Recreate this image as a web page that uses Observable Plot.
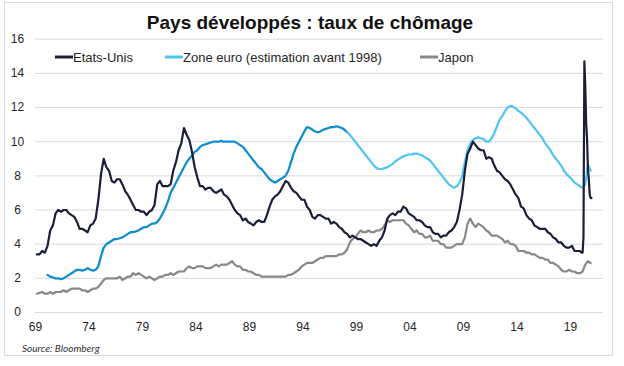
<!DOCTYPE html>
<html><head><meta charset="utf-8">
<script src="https://cdn.jsdelivr.net/npm/d3@7"></script>
<script src="https://cdn.jsdelivr.net/npm/@observablehq/plot@0.6"></script>
<style>
body{margin:0;background:#fff;}
#chart{position:relative;width:624px;height:366px;}
</style>
</head><body><div id="chart"></div>
<script>
// ---- DATA ----
const titleText = "Pays développés : taux de chômage";
const sourceText = "Source: Bloomberg";
const seriesNames = ["Etats-Unis", "Zone euro (estimation avant 1998)", "Japon"];

// United States, quarterly from 1969 Q1 (%)
const usStart = 1969;
const usQuarterly = [
  3.4, 3.4, 3.6, 3.5,
  3.9, 4.8, 5.1, 5.8,
  6.0, 5.9, 6.0, 6.0,
  5.8, 5.7, 5.6, 5.3,
  4.9, 4.9, 4.8, 4.7,
  5.1, 5.2, 5.5, 6.6,
  8.1, 9.0, 8.5, 8.3,
  7.7, 7.6, 7.8, 7.8,
  7.5, 7.1, 6.9, 6.6,
  6.3, 6.0, 6.0, 5.9,
  5.9, 5.7, 5.9, 6.0,
  6.3, 7.5, 7.7, 7.4,
  7.4, 7.4, 7.5, 8.3,
  8.8, 9.5, 9.9, 10.8,
  10.4, 10.1, 9.4, 8.5,
  7.9, 7.4, 7.4, 7.2,
  7.3, 7.3, 7.1, 7.0,
  7.1, 7.2, 6.9, 6.8,
  6.6, 6.3, 6.0, 5.8,
  5.7, 5.4, 5.5, 5.3,
  5.2, 5.1, 5.3, 5.4,
  5.3, 5.3, 5.7, 6.2,
  6.6, 6.8, 6.9, 7.1,
  7.4, 7.7, 7.6, 7.3,
  7.1, 7.0, 6.8, 6.6,
  6.6, 6.2, 6.0, 5.6,
  5.5, 5.7, 5.7, 5.6,
  5.5, 5.5, 5.2, 5.3,
  5.2, 5.0, 4.9, 4.7,
  4.6, 4.4, 4.5, 4.4,
  4.3, 4.3, 4.2, 4.1,
  4.0, 3.9, 4.0, 3.9,
  4.2, 4.4, 4.8, 5.5,
  5.7, 5.8, 5.7, 5.9,
  5.9, 6.2, 6.1, 5.8,
  5.7, 5.6, 5.4, 5.4,
  5.3, 5.1, 5.0, 5.0,
  4.7, 4.6, 4.6, 4.4,
  4.5, 4.5, 4.7, 4.8,
  5.0, 5.3, 6.0, 6.9,
  8.3, 9.3, 9.6, 10.0,
  9.8, 9.6, 9.5, 9.5,
  9.0, 9.1, 9.0, 8.6,
  8.3, 8.2, 8.0, 7.8,
  7.7, 7.5, 7.2, 6.9,
  6.7, 6.2, 6.1, 5.7,
  5.5, 5.4, 5.1, 5.0,
  4.9, 4.9, 4.9, 4.7,
  4.6, 4.4, 4.3, 4.1,
  4.1, 3.9, 3.8, 3.8,
  3.9, 3.6, 3.6, 3.6
];
// United States, monthly 2020 (%)
const us2020Monthly = [3.5, 3.5, 4.4, 14.7, 13.3, 11.1, 10.2, 8.4, 7.8, 6.9, 6.7, 6.7];

// Euro area, quarterly from 1970 Q1 (%), estimate before 1998
const euroStart = 1970;
const euroSplitYear = 1998;
const euroQuarterly = [
  2.2, 2.1, 2.05, 2.0,
  2.0, 1.95, 2.0, 2.1,
  2.2, 2.3, 2.4, 2.5,
  2.5, 2.45, 2.5, 2.6,
  2.5, 2.45, 2.5, 2.7,
  3.3, 3.8, 4.0, 4.1,
  4.2, 4.3, 4.3, 4.35,
  4.4, 4.5, 4.6, 4.7,
  4.7, 4.75, 4.8, 4.9,
  5.0, 5.0, 5.1, 5.2,
  5.2, 5.3, 5.5, 5.8,
  6.1, 6.5, 7.0, 7.3,
  7.6, 7.9, 8.2, 8.5,
  8.8, 9.0, 9.2, 9.4,
  9.5, 9.7, 9.8, 9.85,
  9.9, 9.95, 10.0, 10.0,
  10.0, 10.05, 10.0, 10.0,
  10.0, 10.0, 10.0, 9.9,
  9.8, 9.7, 9.5, 9.3,
  9.1, 8.9, 8.7, 8.5,
  8.4, 8.2, 8.0, 7.8,
  7.7, 7.6, 7.7, 7.8,
  7.9, 8.0, 8.3, 8.8,
  9.3, 9.7, 10.0, 10.3,
  10.6, 10.85, 10.8, 10.7,
  10.6, 10.55, 10.6, 10.7,
  10.75, 10.8, 10.85, 10.85,
  10.9, 10.85, 10.8, 10.7,
  10.55, 10.4, 10.2, 10.0,
  9.8, 9.6, 9.4, 9.2,
  9.0, 8.8, 8.6, 8.45,
  8.4, 8.4, 8.45, 8.5,
  8.6, 8.7, 8.85, 8.95,
  9.05, 9.15, 9.2, 9.25,
  9.25, 9.3, 9.3, 9.25,
  9.2, 9.1, 9.0, 8.9,
  8.7, 8.5, 8.3, 8.1,
  7.9, 7.7, 7.5, 7.4,
  7.3, 7.4, 7.6, 8.0,
  8.8, 9.5, 9.9, 10.1,
  10.2, 10.25, 10.2, 10.15,
  10.0, 10.0, 10.2, 10.5,
  10.9, 11.3, 11.5, 11.8,
  12.0, 12.1, 12.05, 11.95,
  11.8, 11.7, 11.55, 11.4,
  11.2, 11.0, 10.8, 10.6,
  10.4, 10.2, 9.9, 9.7,
  9.5, 9.2, 9.0, 8.8,
  8.6, 8.3, 8.1, 7.95,
  7.8, 7.6, 7.5, 7.4,
  7.3, 7.5, 8.65, 8.3
];

// Japan, quarterly from 1969 Q1 (%)
const japanStart = 1969;
const japanQuarterly = [
  1.1, 1.15, 1.2, 1.1,
  1.1, 1.2, 1.1, 1.2,
  1.2, 1.2, 1.3, 1.2,
  1.3, 1.4, 1.4, 1.4,
  1.4, 1.3, 1.3, 1.2,
  1.3, 1.4, 1.4, 1.5,
  1.7, 1.9, 2.0, 2.0,
  2.0, 2.0, 2.0, 2.1,
  1.9, 2.0, 2.1, 2.1,
  2.3, 2.2, 2.3, 2.2,
  2.1, 2.0, 2.1, 2.0,
  1.9, 2.0, 2.1, 2.1,
  2.2, 2.2, 2.3, 2.2,
  2.3, 2.4, 2.4, 2.4,
  2.6, 2.7, 2.6, 2.6,
  2.7, 2.7, 2.7, 2.6,
  2.6, 2.6, 2.7, 2.8,
  2.7, 2.8, 2.8, 2.8,
  2.9, 3.0, 2.8, 2.7,
  2.7, 2.5, 2.5, 2.4,
  2.4, 2.3, 2.2, 2.2,
  2.1, 2.1, 2.1, 2.1,
  2.1, 2.1, 2.1, 2.1,
  2.1, 2.1, 2.2, 2.2,
  2.3, 2.4, 2.5, 2.7,
  2.8, 2.9, 2.9, 2.9,
  3.0, 3.1, 3.2, 3.2,
  3.3, 3.3, 3.3, 3.3,
  3.3, 3.4, 3.4, 3.5,
  3.7, 4.1, 4.3, 4.4,
  4.6, 4.8, 4.7, 4.7,
  4.8, 4.7, 4.7, 4.8,
  4.8, 4.9, 5.1, 5.4,
  5.3, 5.4, 5.4, 5.4,
  5.4, 5.4, 5.2, 5.1,
  4.9, 4.7, 4.8, 4.6,
  4.6, 4.4, 4.4, 4.5,
  4.2, 4.2, 4.2, 4.0,
  4.0, 3.8, 3.8, 3.8,
  3.9, 4.0, 4.0, 4.0,
  4.4, 5.2, 5.5, 5.2,
  5.0, 5.2, 5.1, 5.0,
  4.8, 4.7, 4.5, 4.5,
  4.5, 4.4, 4.3, 4.1,
  4.2, 4.0, 4.0, 3.9,
  3.6, 3.6, 3.6, 3.5,
  3.5, 3.4, 3.4, 3.3,
  3.2, 3.2, 3.1, 3.1,
  2.9, 2.9, 2.8, 2.7,
  2.5, 2.4, 2.4, 2.5,
  2.4, 2.4, 2.3, 2.3,
  2.4, 2.8, 3.0, 2.9
];

const yTicks = [0, 2, 4, 6, 8, 10, 12, 14, 16];
const xTicks = [1969, 1974, 1979, 1984, 1989, 1994, 1999, 2004, 2009, 2014, 2019];
const xDomain = [1969, 2022.08];
const yDomain = [0, 16];

const colUS = "#1a1e38";
const colEuroPre = "#0b8dcf";
const colEuroPost = "#4ec4f5";
const colJapan = "#888888";
const colGrid = "#d9d9d9";

// ---- BUILD ----
const quarterly = (start, arr) => arr.map((v, i) => ({t: start + i / 4 + 0.125, v}));
const usData = quarterly(usStart, usQuarterly)
  .concat(us2020Monthly.map((v, i) => ({t: 2020 + i / 12 + 1 / 24, v})));
const euroAll = quarterly(euroStart, euroQuarterly);
const euroPre = euroAll.filter(d => d.t <= euroSplitYear + 0.13);
const euroPost = euroAll.filter(d => d.t >= euroSplitYear + 0.12);
const japanData = quarterly(japanStart, japanQuarterly);

const W = 624, H = 366;
const FONT = "'Liberation Sans', Arial, sans-serif";
const chart = Plot.plot({
  width: W, height: H,
  marginLeft: 35, marginRight: 21, marginTop: 38.7, marginBottom: 54,
  style: {fontFamily: FONT, fontSize: "12px", color: "#262626", background: "#fff"},
  x: {domain: xDomain},
  y: {domain: yDomain},
  marks: [
    Plot.gridY(yTicks, {stroke: colGrid, strokeOpacity: 1, strokeWidth: 1}),
    Plot.axisY(yTicks, {tickSize: 0, tickPadding: 18, textAnchor: "middle", fontSize: 12, label: null}),
    Plot.axisX(xTicks, {tickSize: 0, tickPadding: 10, fontSize: 12, label: null,
      tickFormat: d => String(d % 100).padStart(2, "0")}),
    Plot.line(japanData, {x: "t", y: "v", stroke: colJapan, strokeWidth: 2.2}),
    Plot.line(euroPre, {x: "t", y: "v", stroke: colEuroPre, strokeWidth: 2.2}),
    Plot.line(euroPost, {x: "t", y: "v", stroke: colEuroPost, strokeWidth: 2.2}),
    Plot.line(usData, {x: "t", y: "v", stroke: colUS, strokeWidth: 2.2})
  ]
});

const svg = d3.select(chart);
svg.insert("rect", ":first-child")
  .attr("x", 4.5).attr("y", 2.5).attr("width", 608).attr("height", 353)
  .attr("fill", "none").attr("stroke", "#d9d9d9").attr("stroke-width", 1);

svg.append("text")
  .attr("x", 310).attr("y", 29)
  .attr("text-anchor", "middle")
  .style("font-family", FONT)
  .style("font-weight", "bold").style("font-size", "19px").attr("fill", "#111")
  .text(titleText);

const legendItems = [
  {name: seriesNames[0], color: colUS, x: 55},
  {name: seriesNames[1], color: colEuroPost, x: 165},
  {name: seriesNames[2], color: colJapan, x: 420}
];
const lg = svg.append("g").attr("text-anchor", "start");
legendItems.forEach(it => {
  lg.append("line").attr("x1", it.x).attr("x2", it.x + 18).attr("y1", 57).attr("y2", 57)
    .attr("stroke", it.color).attr("stroke-width", 3);
  lg.append("text").attr("x", it.x + 18).attr("y", 61.5)
    .attr("text-anchor", "start")
    .style("font-family", FONT).style("font-size", "13px")
    .attr("fill", "#262626").text(it.name);
});

svg.append("text")
  .attr("x", 22).attr("y", 352)
  .attr("text-anchor", "start")
  .style("font-family", "Lato, 'Open Sans', sans-serif").style("font-style", "italic")
  .style("font-size", "10px").attr("fill", "#333")
  .text(sourceText);

document.getElementById("chart").appendChild(chart);
</script>
</body></html>
